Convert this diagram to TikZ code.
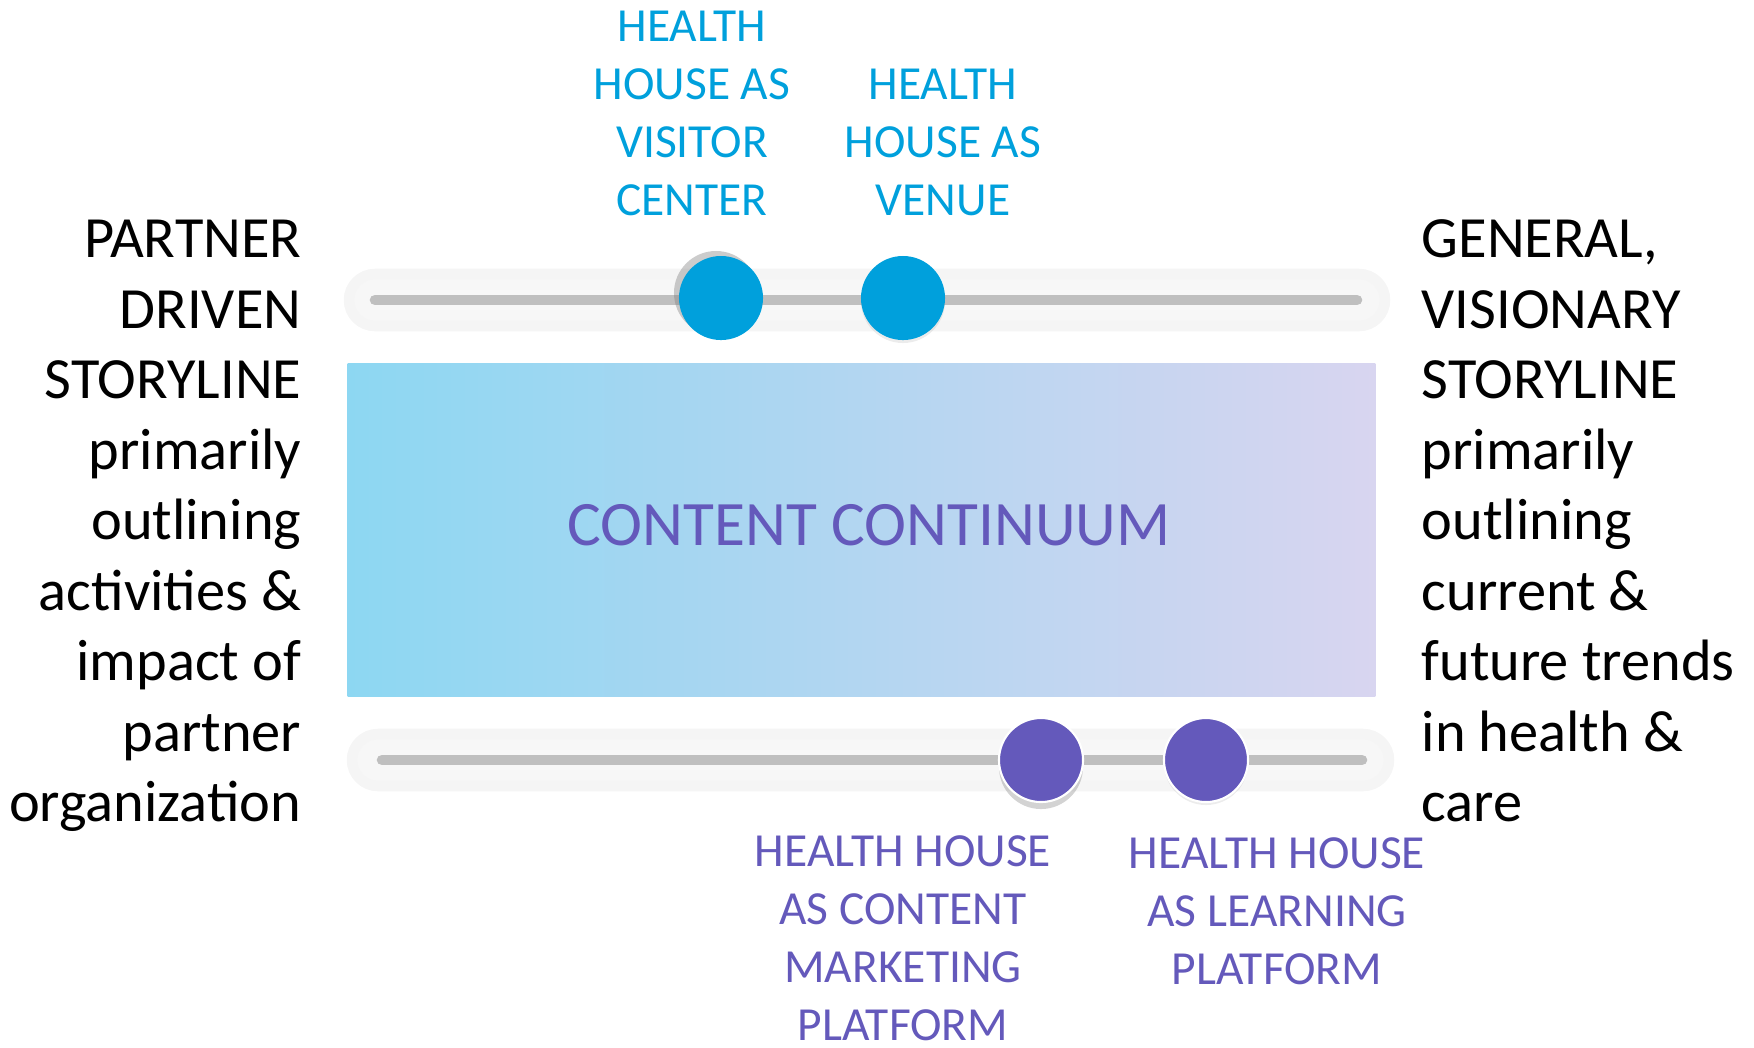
\documentclass[tikz,border=0pt]{standalone}
\usepackage{fontspec}
\setmainfont{Carlito}
\usetikzlibrary{shadows}
\definecolor{knobblue}{HTML}{00A0DC}
\definecolor{knobviolet}{HTML}{6459BB}
\definecolor{bandleft}{HTML}{8DD7F2}
\definecolor{bandright}{HTML}{D8D5F0}
\tikzset{
  sidetext/.style={font=\fontsize{16.6}{20.06}\selectfont, inner sep=0pt},
  tag/.style={font=\fontsize{13.5}{16.45}\selectfont, align=center, inner sep=0pt},
  knob/.style={circle, minimum size=0.84cm, inner sep=0pt},
  track/.style={fill=gray!6, draw=gray!8, line width=3pt, rounded corners=0.26cm},
}
\begin{document}
\begin{tikzpicture}[x=0.01cm,y=-0.01cm]
\useasboundingbox (0,0) rectangle (1754,1047);
\pgfmathsetmacro{\ta}{300}
\pgfmathsetmacro{\tb}{760}
% sliders
\draw[track] (349,\ta-26) rectangle (1385,\ta+26);
\draw[gray!50, line width=3pt, line cap=round] (375,\ta) coordinate (ta1) -- (1357,\ta) coordinate (ta2);
\draw[track] (352,\tb-26) rectangle (1389,\tb+26);
\draw[gray!50, line width=3pt, line cap=round] (382,\tb) coordinate (tb1) -- (1362,\tb) coordinate (tb2);
\node[knob, fill=knobblue, drop shadow={shadow xshift=-0.05cm, shadow yshift=0.05cm, opacity=0.4}] (visitor) at (721,\ta-2) {};
\node[knob, fill=knobblue, drop shadow={shadow xshift=0cm, shadow yshift=-0.03cm, opacity=0.15}] (venue) at (903,\ta-2) {};
\node[knob, fill=knobviolet, draw=white, line width=0.6pt, drop shadow={shadow xshift=0cm, shadow yshift=-0.07cm, opacity=0.35}] (marketing) at (1041,\tb) {};
\node[knob, fill=knobviolet, draw=white, line width=0.6pt, drop shadow={shadow xshift=0cm, shadow yshift=-0.03cm, opacity=0.15}] (learning) at (1206,\tb) {};
% band
\node[left color=bandleft, right color=bandright, minimum width=10.27cm, minimum height=3.32cm, inner sep=0pt] (band) at (861.5,530) {};
\node[font=\fontsize{18}{22}\selectfont, text=knobviolet, inner sep=0pt] (title) at (869,525) {CONTENT CONTINUUM};
% side texts
\node[sidetext, align=right, anchor=east] (partner) at (302,526) {PARTNER\\DRIVEN\\STORYLINE\\primarily\\outlining\\activities \&\\impact of\\partner\\organization};
\node[sidetext, align=left, anchor=west] (general) at (1421,521) {GENERAL,\\VISIONARY\\STORYLINE\\primarily\\outlining\\current \&\\future trends\\in health \&\\care};
% tags
\node[tag, text=knobblue] (visitortag) at (692,113.5) {HEALTH\\HOUSE AS\\VISITOR\\CENTER};
\node[tag, text=knobblue] (venuetag) at (943,142.5) {HEALTH\\HOUSE AS\\VENUE};
\node[tag, text=knobviolet] (marketingtag) at (903,938) {HEALTH HOUSE\\AS CONTENT\\MARKETING\\PLATFORM};
\node[tag, text=knobviolet] (learningtag) at (1277,911) {HEALTH HOUSE\\AS LEARNING\\PLATFORM};
\end{tikzpicture}
\end{document}
